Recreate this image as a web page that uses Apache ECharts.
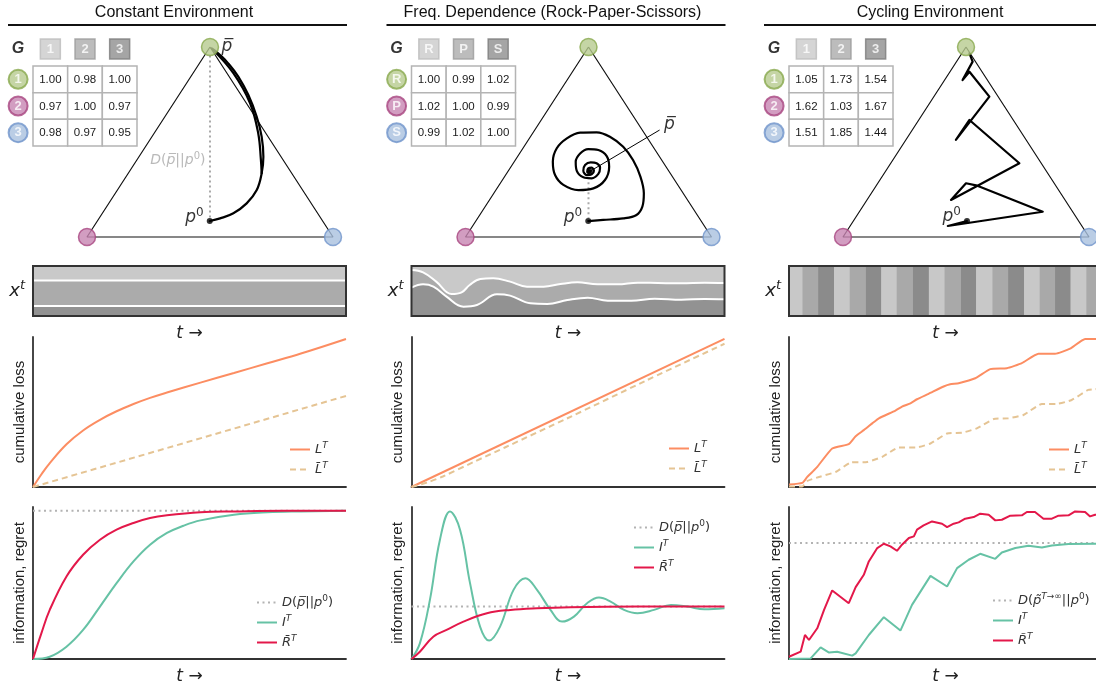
<!DOCTYPE html>
<html>
<head>
<meta charset="utf-8">
<script src="https://cdn.jsdelivr.net/npm/echarts@6/dist/echarts.min.js"></script>
<style>
  html, body { margin: 0; padding: 0; background: #fff; }
  #chart { width: 1096px; height: 685px; }
</style>
</head>
<body>
<div id="chart"></div>
<script>
// ---------------- data ----------------
const panelTitles = ['Constant Environment', 'Freq. Dependence (Rock-Paper-Scissors)', 'Cycling Environment'];
const strategyLabels = [['1', '2', '3'], ['R', 'P', 'S'], ['1', '2', '3']];

// payoff matrices G (rows: strategy, columns: environment state)
const payoffConst = [[1.00, 0.98, 1.00], [0.97, 1.00, 0.97], [0.98, 0.97, 0.95]];
const payoffRPS   = [[1.00, 0.99, 1.02], [1.02, 1.00, 0.99], [0.99, 1.02, 1.00]];
const payoffCycle = [[1.05, 1.73, 1.54], [1.62, 1.03, 1.67], [1.51, 1.85, 1.44]];

// simplex corners (strategy 1 top, 2 bottom-left, 3 bottom-right), in simplex-plane coordinates
const simplexCorners = [[0.5, 1], [0, 0], [1, 0]];

// population trajectories in the simplex plane
const trajConst = [[0.499, 0.084], [0.541, 0.098], [0.595, 0.125], [0.649, 0.177], [0.690, 0.247], [0.710, 0.335],
  [0.717, 0.423], [0.710, 0.528], [0.690, 0.633], [0.656, 0.747], [0.615, 0.844], [0.574, 0.914], [0.541, 0.958],
  [0.520, 0.981], [0.507, 0.993]];
const trajConstBranch = [[0.710, 0.335], [0.707, 0.405], [0.696, 0.546], [0.663, 0.704], [0.595, 0.862], [0.513, 0.984]];
const trajRPS = [[0.499, 0.084], [0.560, 0.090], [0.641, 0.098], [0.695, 0.116], [0.719, 0.160], [0.725, 0.230],
  [0.711, 0.318], [0.681, 0.405], [0.641, 0.475], [0.587, 0.528], [0.533, 0.551], [0.466, 0.549], [0.412, 0.519],
  [0.371, 0.467], [0.355, 0.396], [0.364, 0.326], [0.398, 0.274], [0.459, 0.247], [0.520, 0.256], [0.567, 0.300],
  [0.584, 0.370], [0.574, 0.426], [0.540, 0.458], [0.499, 0.463], [0.466, 0.440], [0.448, 0.396], [0.452, 0.349],
  [0.479, 0.314], [0.513, 0.309], [0.540, 0.332], [0.547, 0.365], [0.533, 0.388], [0.509, 0.393], [0.486, 0.379],
  [0.479, 0.349], [0.493, 0.326], [0.513, 0.330], [0.522, 0.349], [0.513, 0.365], [0.499, 0.361], [0.495, 0.344],
  [0.503, 0.339], [0.509, 0.346], [0.503, 0.349]];
const rpsCenter = [0.505, 0.345];
const rpsPointerEnd = [0.789, 0.563];
const trajCycle = [[0.504, 0.084], [0.426, 0.058], [0.812, 0.133], [0.541, 0.272], [0.500, 0.283], [0.439, 0.195],
  [0.717, 0.388], [0.514, 0.616], [0.459, 0.511], [0.595, 0.739], [0.514, 0.870], [0.486, 0.826], [0.527, 0.923],
  [0.514, 0.967]];

// environment x^t
const envConst = [0.29, 0.51, 0.20];          // shares of states 1, 2, 3
const envRpsUpper = [[0, 0.92], [3.7, 0.873], [7.9, 0.687], [12.8, 0.44], [16, 0.473], [18.6, 0.62], [22, 0.74],
  [26.1, 0.753], [31.5, 0.687], [36.9, 0.587], [42.2, 0.587], [47.6, 0.64], [53, 0.673], [59.4, 0.633], [65.8, 0.633],
  [72.3, 0.667], [78.7, 0.66], [86.2, 0.653], [93.7, 0.667], [100, 0.66]];
const envRpsLower = [[0, 0.567], [3.7, 0.633], [7, 0.587], [11.2, 0.387], [16.6, 0.187], [20.9, 0.22], [27.3, 0.433],
  [31.5, 0.407], [38, 0.253], [43.4, 0.24], [49.8, 0.32], [56.3, 0.367], [62.7, 0.307], [70.2, 0.307], [77.7, 0.347],
  [86.2, 0.327], [93.7, 0.34], [100, 0.333]];
const cycleSwitches = [0, 4.3, 9.3, 14.4, 19.4, 24.5, 29.5, 34.4, 39.6, 44.7, 49.7, 54.9, 59.8, 65.0, 70.0, 75.1,
  80.1, 85.0, 90.0, 95.0, 99.3, 100];
const cycleStates = [1, 2, 3, 1, 2, 3, 1, 2, 3, 1, 2, 3, 1, 2, 3, 1, 2, 3, 1, 2, 3];

// cumulative loss L^T and reference loss
const lossConst = [[0, 0], [2.7, 0.085], [5.3, 0.158], [10.7, 0.285], [16, 0.377], [21.4, 0.448], [26.7, 0.505],
  [32.1, 0.553], [37.4, 0.594], [42.8, 0.630], [53.5, 0.696], [64.2, 0.760], [74.9, 0.825], [85.6, 0.890], [100, 0.987]];
const lossBarConst = [[0, 0], [100, 0.607]];
const lossRPS = [[0, 0], [100, 0.987]];
const lossBarRPS = [[0, 0], [5, 0.03], [10, 0.07], [20, 0.168], [30, 0.265], [50, 0.46], [75, 0.71], [100, 0.955]];
const lossCycle = [[0, 0.016], [4.25, 0.027], [5.84, 0.067], [7.44, 0.1], [9.03, 0.134], [13.8, 0.257], [19.1, 0.286],
  [21.3, 0.339], [23.9, 0.379], [26.6, 0.424], [28.7, 0.458], [34.0, 0.509], [36.1, 0.536], [38.8, 0.558], [40.9, 0.585],
  [44.6, 0.621], [49.4, 0.67], [51.5, 0.685], [54.2, 0.692], [59.5, 0.725], [64.3, 0.786], [69.6, 0.792], [74.4, 0.826],
  [79.7, 0.888], [85.0, 0.888], [89.8, 0.922], [94.6, 0.987], [97.8, 0.987], [100, 0.99]];
const lossBarCycle = [[0, 0.004], [4.25, 0.004], [5.84, 0.04], [9.56, 0.067], [14.9, 0.1], [19.7, 0.163], [25.0, 0.167],
  [29.8, 0.201], [35.1, 0.263], [40.4, 0.263], [45.2, 0.29], [50.5, 0.357], [55.3, 0.362], [60.0, 0.391], [65.4, 0.453],
  [70.1, 0.458], [74.9, 0.48], [80.8, 0.554], [85.5, 0.554], [90.3, 0.58], [95.6, 0.647], [97.8, 0.652], [100, 0.656]];

// information I^T, regret R^T and the divergence bound D
const divConst = 0.976;
const infoConst = [[0, 0], [5.35, 0.015], [10.7, 0.081], [16.0, 0.191], [21.4, 0.345], [26.7, 0.499], [32.1, 0.642],
  [37.4, 0.752], [42.8, 0.829], [48.1, 0.877], [53.5, 0.912], [64.2, 0.949], [74.9, 0.965], [85.6, 0.971], [100, 0.976]];
const regretConst = [[0, 0], [2.67, 0.169], [5.35, 0.323], [10.7, 0.543], [16.0, 0.686], [21.4, 0.785], [26.7, 0.851],
  [32.1, 0.895], [37.4, 0.927], [42.8, 0.945], [53.5, 0.965], [64.2, 0.971], [80.2, 0.976], [100, 0.976]];
const divRPS = 0.345;
const infoRPS = [[0, 0], [2.67, 0.103], [5.88, 0.389], [9.09, 0.785], [12.3, 0.971], [15.5, 0.851], [18.7, 0.499],
  [21.9, 0.213], [24.8, 0.121], [28.3, 0.213], [32.6, 0.455], [36.4, 0.532], [40.1, 0.455], [44.4, 0.323], [48.1, 0.246],
  [51.9, 0.279], [56.1, 0.367], [59.9, 0.404], [63.6, 0.378], [67.9, 0.323], [72.2, 0.301], [77.5, 0.323], [82.9, 0.356],
  [88.2, 0.345], [93.6, 0.327], [100, 0.334]];
const regretRPS = [[0, 0], [2.67, 0.048], [6.95, 0.147], [11.2, 0.191], [16.6, 0.246], [24.1, 0.301], [31.6, 0.323],
  [40.1, 0.334], [50.8, 0.341], [72.2, 0.345], [100, 0.345]];
const divCycle = 0.763;
const infoCycle = [[0, 0], [6.91, 0.004], [10.1, 0.077], [12.8, 0.042], [15.4, 0.048], [20.2, 0.022], [21.3, 0.037],
  [25.5, 0.158], [30.3, 0.275], [35.6, 0.187], [39.3, 0.356], [45.2, 0.547], [50.5, 0.477], [53.7, 0.598], [57.4, 0.653],
  [61.1, 0.692], [65.9, 0.659], [68.0, 0.701], [72.3, 0.73], [76.5, 0.745], [80.8, 0.734], [84.0, 0.747], [89.3, 0.756],
  [97.8, 0.758], [100, 0.758]];
const regretCycle = [[0, 0.015], [3.72, 0.048], [5.10, 0.158], [6.38, 0.125], [9.03, 0.202], [11.2, 0.323], [13.8, 0.451],
  [19.1, 0.367], [21.3, 0.473], [23.9, 0.554], [25.5, 0.642], [28.2, 0.73], [30.3, 0.758], [32.4, 0.741], [34.5, 0.712],
  [36.1, 0.752], [38.3, 0.796], [39.9, 0.807], [40.9, 0.851], [43.0, 0.879], [45.7, 0.905], [48.9, 0.89], [50.5, 0.868],
  [52.6, 0.89], [54.2, 0.899], [56.3, 0.923], [59.0, 0.934], [61.1, 0.956], [63.8, 0.949], [65.9, 0.912], [68.0, 0.916],
  [70.7, 0.943], [74.4, 0.945], [76.0, 0.967], [78.6, 0.967], [81.3, 0.923], [84.0, 0.923], [86.1, 0.943], [89.3, 0.945],
  [91.4, 0.971], [94.6, 0.967], [96.2, 0.938], [97.8, 0.949], [100, 0.949]];

// ---------------- styling ----------------
const fontSans = '"Liberation Sans", Arial, sans-serif';
const fontMath = '"DejaVu Sans", sans-serif';
const stratFill = ['#b6ca8e', '#c784b2', '#a9c0df'];
const stratStroke = ['#88a94d', '#a8457f', '#6f93cb'];
const stateFill = ['#cacaca', '#ababab', '#8e8e8e'];
const stateStroke = ['#bcbcbc', '#9b9b9b', '#7c7c7c'];
const bandFill = ['#c9c9c9', '#ababab', '#929292'];
const cLoss = '#fc8d62', cLossBar = '#e5c494', cInfo = '#66c2a5', cRegret = '#e3184a', cDiv = '#b3b3b3';
const ox = [0, 378.5, 756];

function mathRich(size, color) {
  const sup = Math.round(size * 0.7);
  const lift = Math.round(size * 0.6);
  return {
    mi: { fontFamily: fontMath, fontStyle: 'italic', fontSize: size, color },
    mr: { fontFamily: fontMath, fontSize: size, color },
    si: { fontFamily: fontMath, fontStyle: 'italic', fontSize: sup, color, padding: [0, 0, lift, 0] },
    sr: { fontFamily: fontMath, fontSize: sup, color, padding: [0, 0, lift, 0] }
  };
}
const tArrow = '{mi|t}{mr| \u2192}';
const legendText = {
  L: '{mi|L}{si|T}',
  Lbar: '{mi|L\u0304}{si|T}',
  D: '{mi|D}{mr|(}{mi|p\u0305}{mr|||}{mi|p}{sr|0}{mr|)}',
  I: '{mi|I}{si|T}',
  R: '{mi|R\u0304}{si|T}',
  Dcyc: '{mi|D}{mr|(}{mi|p\u0303}{si|T}{sr|\u2192\u221e}{mr|||}{mi|p}{sr|0}{mr|)}',
  Rcyc: '{mi|R\u0303}{si|T}'
};

// ---------------- option builders ----------------
const grids = [], xAxes = [], yAxes = [], series = [], legends = [], graphics = [];

function addGrid(rect, xa, ya) {
  grids.push(Object.assign({ containLabel: false, outerBoundsMode: 'none' }, rect));
  const gi = grids.length - 1;
  xa.gridIndex = gi; ya.gridIndex = gi;
  xAxes.push(xa); yAxes.push(ya);
  return { xAxisIndex: xAxes.length - 1, yAxisIndex: yAxes.length - 1 };
}
function hiddenAxis(min, max, extra) {
  return Object.assign({ type: 'value', min, max, show: false }, extra || {});
}
function nameAxis(min, max, extra) {
  return Object.assign({ type: 'value', min, max, axisLine: { show: false }, axisTick: { show: false },
    axisLabel: { show: false }, splitLine: { show: false } }, extra || {});
}
function plotAxis(min, max, extra) {
  return Object.assign({ type: 'value', min, max,
    axisLine: { show: true, onZero: false, lineStyle: { color: '#333', width: 1.8 } },
    axisTick: { show: false }, axisLabel: { show: false }, splitLine: { show: false } }, extra || {});
}
function curve(ax, name, data, color, width, extra) {
  return Object.assign({ type: 'line', name, ...ax, data, symbol: 'none', showSymbol: false,
    lineStyle: { color, width }, itemStyle: { color }, silent: true }, extra || {});
}
function pointLabel(ax, point, text, rich, position, distance, offset, symbolSize) {
  series.push({ type: 'scatter', ...ax, data: [point], symbolSize: symbolSize || 1,
    itemStyle: { color: symbolSize ? '#000' : 'rgba(0,0,0,0)' }, clip: false, silent: true, z: 6,
    label: { show: true, position, distance, offset: offset || [0, 0], formatter: text, rich } });
}

function drawTitle(c) {
  graphics.push({ type: 'text', x: 174 + ox[c], y: 13,
    style: { text: panelTitles[c], font: '16px ' + fontSans, fill: '#111', align: 'center', verticalAlign: 'middle' } });
  graphics.push({ type: 'line', shape: { x1: 8 + ox[c], y1: 25, x2: 347 + ox[c], y2: 25 },
    style: { stroke: '#111', lineWidth: 2 } });
}

function drawTable(c, labels, payoff) {
  const ax = addGrid({ left: 33 + ox[c], top: 66, width: 104, height: 80 },
    hiddenAxis(0, 3), hiddenAxis(0, 3, { inverse: true }));
  const cells = [];
  payoff.forEach((row, j) => row.forEach((v, i) => cells.push([i, j, v])));
  series.push({ type: 'custom', ...ax, data: cells, clip: false, silent: true, z: 3,
    renderItem(params, api) {
      const i = api.value(0), j = api.value(1), v = api.value(2);
      const a = api.coord([i, j]), b = api.coord([i + 1, j + 1]);
      return { type: 'group', children: [
        { type: 'rect', shape: { x: a[0], y: a[1], width: b[0] - a[0], height: b[1] - a[1] },
          style: { fill: '#fff', stroke: '#b4b4b4', lineWidth: 1.5 } },
        { type: 'text', style: { text: v.toFixed(2), x: (a[0] + b[0]) / 2, y: (a[1] + b[1]) / 2 + 0.5,
          align: 'center', verticalAlign: 'middle', font: '11.5px ' + fontSans, fill: '#1a1a1a' } }
      ] };
    } });
  const whiteLabel = { show: true, position: 'inside', formatter: '{b}', color: '#fff', fontWeight: 'bold',
    fontSize: 13, fontFamily: fontSans };
  series.push({ type: 'scatter', ...ax, symbol: 'rect', symbolSize: [20, 20], clip: false, silent: true, z: 4,
    data: labels.map((s, i) => ({ value: [i + 0.5, -0.64], name: s,
      itemStyle: { color: stateFill[i], borderColor: stateStroke[i], borderWidth: 1.5 } })),
    label: whiteLabel });
  series.push({ type: 'scatter', ...ax, symbol: 'circle', symbolSize: 19, clip: false, silent: true, z: 4,
    data: labels.map((s, i) => ({ value: [-0.43, i + 0.5], name: s,
      itemStyle: { color: stratFill[i], borderColor: stratStroke[i], borderWidth: 2 } })),
    label: whiteLabel });
  series.push({ type: 'scatter', ...ax, symbolSize: 1, clip: false, silent: true, z: 4,
    itemStyle: { color: 'rgba(0,0,0,0)' },
    data: [{ value: [-0.43, -0.64], name: 'G' }],
    label: { show: true, position: 'inside', formatter: '{b}', color: '#000', fontWeight: 'bold',
      fontStyle: 'italic', fontSize: 16, fontFamily: fontSans } });
}

function drawSimplex(c, paths, smooth) {
  const ax = addGrid({ left: 87 + ox[c], top: 47, width: 246, height: 190 }, hiddenAxis(0, 1), hiddenAxis(0, 1));
  series.push({ type: 'line', ...ax, data: simplexCorners.concat([simplexCorners[0]]), symbol: 'none',
    lineStyle: { color: '#111', width: 1.2 }, clip: false, silent: true, z: 2 });
  paths.forEach(p => series.push({ type: 'line', ...ax, data: p, symbol: 'none', smooth,
    lineStyle: { color: '#000', width: 2.2, join: 'round', cap: 'round' }, clip: false, silent: true, z: 3 }));
  series.push({ type: 'scatter', ...ax, symbolSize: 17, clip: false, silent: true, z: 5,
    data: simplexCorners.map((p, i) => ({ value: p,
      itemStyle: { color: stratFill[i], borderColor: stratStroke[i], borderWidth: 1.5 } })) });
  return ax;
}

function stripAxes(c, bg) {
  const ax = addGrid({ left: 33 + ox[c], top: 266, width: 313, height: 50, show: true, backgroundColor: bg, borderWidth: 0 },
    nameAxis(0, 100, { name: tArrow, nameLocation: 'middle', nameGap: 9, nameTextStyle: { rich: mathRich(17, '#222') } }),
    nameAxis(0, 1, { name: '{mi|x}{si|t}', nameLocation: 'middle', nameRotate: 0, nameGap: 8,
      nameTextStyle: { rich: mathRich(18, '#222') } }));
  graphics.push({ type: 'rect', z: 100, shape: { x: 33 + ox[c], y: 266, width: 313, height: 50 },
    style: { fill: 'none', stroke: '#333', lineWidth: 2 } });
  return ax;
}
function bandBoundaries(ax, upper, lower, smooth) {
  series.push(curve(ax, 'upper', upper, '#fff', 2, { smooth, areaStyle: { color: bandFill[1], opacity: 1 }, z: 2 }));
  series.push(curve(ax, 'lower', lower, '#fff', 2, { smooth, areaStyle: { color: bandFill[2], opacity: 1 }, z: 3 }));
}

function lossAxes(c) {
  return addGrid({ left: 33 + ox[c], top: 337, width: 313, height: 150 }, plotAxis(0, 100),
    plotAxis(0, 1, { name: 'cumulative loss', nameLocation: 'middle', nameGap: 6,
      nameTextStyle: { fontSize: 15, color: '#222', fontFamily: fontSans } }));
}
function infoAxes(c) {
  return addGrid({ left: 33 + ox[c], top: 507, width: 313, height: 152 },
    plotAxis(0, 100, { name: tArrow, nameLocation: 'middle', nameGap: 9, nameTextStyle: { rich: mathRich(17, '#222') } }),
    plotAxis(0, 1, { name: 'information, regret', nameLocation: 'middle', nameGap: 6,
      nameTextStyle: { fontSize: 15, color: '#222', fontFamily: fontSans } }));
}
function addLegend(left, top, names) {
  legends.push({ orient: 'vertical', left, top, data: names, itemWidth: 20, itemHeight: 10, itemGap: 5,
    padding: 0, selectedMode: false, formatter: n => legendText[n],
    itemStyle: { color: 'rgba(0,0,0,0)', borderWidth: 0, opacity: 0 },
    textStyle: { color: '#333', rich: mathRich(13, '#333') } });
}
const dotted = { type: [2, 3.5], cap: 'butt' };

// ---------------- panel 1: constant environment ----------------
drawTitle(0);
drawTable(0, strategyLabels[0], payoffConst);
{
  const ax = drawSimplex(0, [trajConst, trajConstBranch], 0.4);
  series.push({ type: 'line', ...ax, data: [[0.5, 0.955], [0.5, 0.1]], symbol: 'none', clip: false, silent: true, z: 2,
    lineStyle: { color: '#aaa', width: 2, type: [2, 3] } });
  pointLabel(ax, trajConst[0], '{mi|p}{sr|0}', mathRich(17, '#000'), 'left', 3, [0, -3], 6);
  pointLabel(ax, simplexCorners[0], '{mi|p\u0305}', mathRich(17, '#000'), 'right', 11, [0, 0]);
  pointLabel(ax, [0.5, 0.405], '{mi|D}{mr|(}{mi|p\u0305}{mr|||}{mi|p}{sr|0}{mr|)}', mathRich(14, '#a8a8a8'), 'left', 4, [0, 0]);

  const sx = stripAxes(0, bandFill[0]);
  const lowerShare = envConst[2], upperShare = envConst[1] + envConst[2];
  bandBoundaries(sx, [[0, upperShare], [100, upperShare]], [[0, lowerShare], [100, lowerShare]], false);

  const lx = lossAxes(0);
  series.push(curve(lx, 'L', lossConst, cLoss, 2, { smooth: 0.4 }));
  series.push(curve(lx, 'Lbar', lossBarConst, cLossBar, 2, { lineStyle: { color: cLossBar, width: 2, type: [6, 4] } }));
  addLegend(289, 441, ['L', 'Lbar']);

  const ix = infoAxes(0);
  series.push(curve(ix, 'D', [[0, divConst], [100, divConst]], cDiv, 2, { lineStyle: Object.assign({ color: cDiv, width: 2 }, dotted) }));
  series.push(curve(ix, 'I', infoConst, cInfo, 2, { smooth: 0.4 }));
  series.push(curve(ix, 'R', regretConst, cRegret, 2, { smooth: 0.4 }));
  addLegend(256, 594, ['D', 'I', 'R']);
}

// ---------------- panel 2: rock-paper-scissors ----------------
drawTitle(1);
drawTable(1, strategyLabels[1], payoffRPS);
{
  const ax = drawSimplex(1, [trajRPS], 0.35);
  series.push({ type: 'line', ...ax, data: [[0.5, 0.315], [0.5, 0.1]], symbol: 'none', clip: false, silent: true, z: 2,
    lineStyle: { color: '#aaa', width: 2, type: [2, 3] } });
  series.push({ type: 'line', ...ax, data: [rpsCenter, rpsPointerEnd], symbol: 'none', clip: false, silent: true, z: 3,
    lineStyle: { color: '#000', width: 1 } });
  pointLabel(ax, rpsCenter, '', {}, 'inside', 0, [0, 0], 6);
  pointLabel(ax, trajRPS[0], '{mi|p}{sr|0}', mathRich(17, '#000'), 'left', 3, [0, -3], 6);
  pointLabel(ax, rpsPointerEnd, '{mi|p\u0305}', mathRich(17, '#000'), 'right', 4, [0, -5]);

  const sx = stripAxes(1, bandFill[0]);
  bandBoundaries(sx, envRpsUpper, envRpsLower, 0.4);

  const lx = lossAxes(1);
  series.push(curve(lx, 'L', lossRPS, cLoss, 2));
  series.push(curve(lx, 'Lbar', lossBarRPS, cLossBar, 2, { smooth: 0.3, lineStyle: { color: cLossBar, width: 2, type: [6, 4] } }));
  addLegend(668, 440, ['L', 'Lbar']);

  const ix = infoAxes(1);
  series.push(curve(ix, 'D', [[0, divRPS], [100, divRPS]], cDiv, 2, { lineStyle: Object.assign({ color: cDiv, width: 2 }, dotted) }));
  series.push(curve(ix, 'I', infoRPS, cInfo, 2, { smooth: 0.4 }));
  series.push(curve(ix, 'R', regretRPS, cRegret, 2, { smooth: 0.4 }));
  addLegend(633, 519, ['D', 'I', 'R']);
}

// ---------------- panel 3: cycling environment ----------------
drawTitle(2);
drawTable(2, strategyLabels[2], payoffCycle);
{
  const ax = drawSimplex(2, [trajCycle], false);
  pointLabel(ax, trajCycle[0], '{mi|p}{sr|0}', mathRich(17, '#000'), 'left', 3, [0, -4], 6);

  const sx = stripAxes(2, bandFill[0]);
  const segments = cycleStates.map((s, k) => [cycleSwitches[k], cycleSwitches[k + 1], s]);
  series.push({ type: 'custom', ...sx, data: segments, silent: true, clip: true, z: 2,
    renderItem(params, api) {
      const a = api.coord([api.value(0), 1]), b = api.coord([api.value(1), 0]);
      return { type: 'rect', shape: { x: a[0], y: a[1], width: b[0] - a[0], height: b[1] - a[1] },
        style: { fill: ['#c8c8c8', '#a9a9a9', '#8b8b8b'][api.value(2) - 1] } };
    } });

  const lx = lossAxes(2);
  series.push(curve(lx, 'L', lossCycle, cLoss, 2, { smooth: 0.15 }));
  series.push(curve(lx, 'Lbar', lossBarCycle, cLossBar, 2, { smooth: 0.15, lineStyle: { color: cLossBar, width: 2, type: [6, 4] } }));
  addLegend(1048, 441, ['L', 'Lbar']);

  const ix = infoAxes(2);
  series.push(curve(ix, 'Dcyc', [[0, divCycle], [100, divCycle]], cDiv, 2, { lineStyle: Object.assign({ color: cDiv, width: 2 }, dotted) }));
  series.push(curve(ix, 'I', infoCycle, cInfo, 2));
  series.push(curve(ix, 'Rcyc', regretCycle, cRegret, 2));
  addLegend(992, 592, ['Dcyc', 'I', 'Rcyc']);
}

const chart = echarts.init(document.getElementById('chart'), null, { renderer: 'canvas' });
chart.setOption({
  animation: false,
  backgroundColor: '#fff',
  textStyle: { fontFamily: fontSans },
  grid: grids, xAxis: xAxes, yAxis: yAxes,
  legend: legends, series, graphic: graphics
});
</script>
</body>
</html>
